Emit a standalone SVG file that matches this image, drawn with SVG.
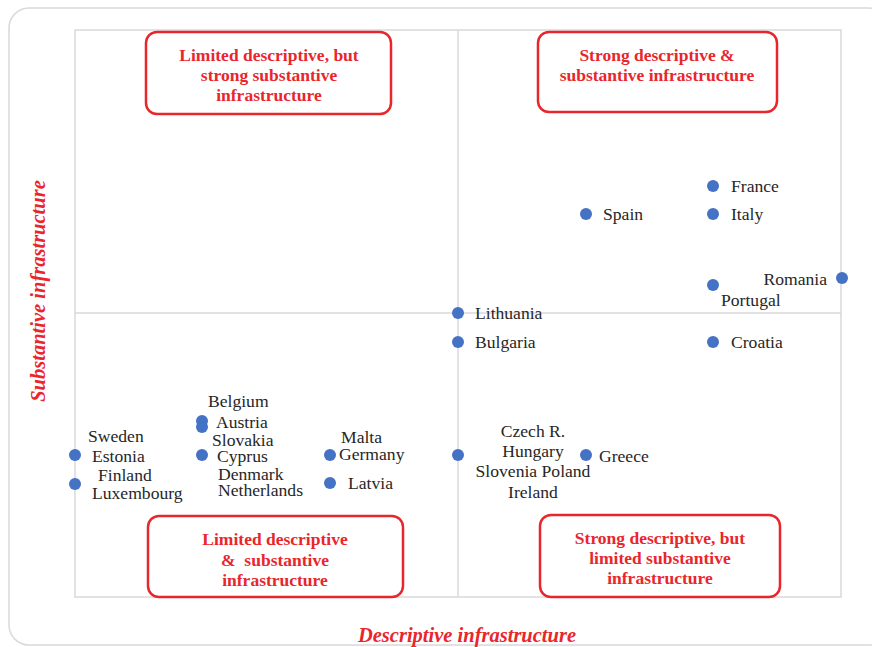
<svg xmlns="http://www.w3.org/2000/svg" width="872" height="647" viewBox="0 0 872 647">
<style>
.frame{fill:#fff;stroke:#d9d9d9;stroke-width:1.5}
.grid{fill:none;stroke:#d9d9d9;stroke-width:1.5}
.box{fill:#fff;stroke:#e8262c;stroke-width:2.5}
.bt{font-family:"Liberation Serif","Times New Roman",serif;font-weight:bold;font-size:17.5px;fill:#e8262c;text-anchor:middle}
.ax{font-family:"Liberation Serif","Times New Roman",serif;font-weight:bold;font-style:italic;font-size:20.5px;fill:#e8262c;text-anchor:middle}
.lb{font-family:"Liberation Serif","Times New Roman",serif;font-size:17.6px;fill:#262626}
.dot{fill:#4472c4}
</style>
<rect class="frame" x="9" y="8" width="880" height="637" rx="20"/>
<g id="plot">
<rect class="grid" x="75" y="30" width="766" height="567"/>
<line class="grid" x1="458" y1="30" x2="458" y2="597"/>
<line class="grid" x1="75" y1="313" x2="841" y2="313"/>
</g>
<g id="axis-labels">
<text class="ax" x="467" y="642">Descriptive infrastructure</text>
<text class="ax" transform="translate(45 291) rotate(-90)">Substantive infrastructure</text>
</g>
<g id="q-top-left">
<rect class="box" x="146" y="32" width="245" height="82" rx="11"/>
<text class="bt" x="269" y="61">Limited descriptive, but</text>
<text class="bt" x="269" y="81">strong substantive</text>
<text class="bt" x="269" y="101">infrastructure</text>
</g>
<g id="q-top-right">
<rect class="box" x="538" y="32" width="239" height="80" rx="11"/>
<text class="bt" x="657" y="61">Strong descriptive &amp;</text>
<text class="bt" x="657" y="81">substantive infrastructure</text>
</g>
<g id="q-bottom-left">
<rect class="box" x="148" y="516" width="255" height="81" rx="11"/>
<text class="bt" x="275" y="545">Limited descriptive</text>
<text class="bt" x="275" y="566" xml:space="preserve">&amp;  substantive</text>
<text class="bt" x="275" y="586">infrastructure</text>
</g>
<g id="q-bottom-right">
<rect class="box" x="540" y="515" width="240" height="82" rx="11"/>
<text class="bt" x="660" y="544">Strong descriptive, but</text>
<text class="bt" x="660" y="564">limited substantive</text>
<text class="bt" x="660" y="584">infrastructure</text>
</g>
<g id="points">
<g id="france"><circle class="dot" cx="713" cy="186" r="6"/><text class="lb" x="731" y="192">France</text></g>
<g id="spain"><circle class="dot" cx="586" cy="214" r="6"/><text class="lb" x="603" y="220">Spain</text></g>
<g id="italy"><circle class="dot" cx="713" cy="214" r="6"/><text class="lb" x="731" y="220">Italy</text></g>
<g id="romania"><circle class="dot" cx="842" cy="278" r="6"/><text class="lb" x="827" y="285" text-anchor="end">Romania</text></g>
<g id="portugal"><circle class="dot" cx="713" cy="285" r="6"/><text class="lb" x="721" y="306">Portugal</text></g>
<g id="lithuania"><circle class="dot" cx="458" cy="313" r="6"/><text class="lb" x="475" y="319">Lithuania</text></g>
<g id="bulgaria"><circle class="dot" cx="458" cy="342" r="6"/><text class="lb" x="475" y="348">Bulgaria</text></g>
<g id="croatia"><circle class="dot" cx="713" cy="342" r="6"/><text class="lb" x="731" y="348">Croatia</text></g>
<g id="greece"><circle class="dot" cx="586" cy="455" r="6"/><text class="lb" x="599" y="462">Greece</text></g>
<g id="czech-group"><circle class="dot" cx="458" cy="455" r="6"/>
<text class="lb" x="533" y="437" text-anchor="middle">Czech R.</text>
<text class="lb" x="533" y="457" text-anchor="middle">Hungary</text>
<text class="lb" x="533" y="477" text-anchor="middle">Slovenia Poland</text>
<text class="lb" x="533" y="498" text-anchor="middle">Ireland</text></g>
<g id="malta-germany"><circle class="dot" cx="330" cy="455" r="6"/>
<text class="lb" x="341" y="443">Malta</text>
<text class="lb" x="339" y="460">Germany</text></g>
<g id="latvia"><circle class="dot" cx="330" cy="483" r="6"/><text class="lb" x="348" y="489">Latvia</text></g>
<g id="belgium-austria"><circle class="dot" cx="202" cy="421" r="6"/><circle class="dot" cx="202" cy="427" r="6"/>
<text class="lb" x="208" y="407">Belgium</text>
<text class="lb" x="216" y="428">Austria</text></g>
<g id="slovakia-group"><circle class="dot" cx="202" cy="455" r="6"/>
<text class="lb" x="212" y="446">Slovakia</text>
<text class="lb" x="217" y="462">Cyprus</text>
<text class="lb" x="218" y="480">Denmark</text>
<text class="lb" x="218" y="496">Netherlands</text></g>
<g id="sweden-estonia"><circle class="dot" cx="75" cy="455" r="6"/>
<text class="lb" x="88" y="442">Sweden</text>
<text class="lb" x="92" y="462">Estonia</text></g>
<g id="finland-luxembourg"><circle class="dot" cx="75" cy="484" r="6"/>
<text class="lb" x="98" y="481">Finland</text>
<text class="lb" x="92" y="499">Luxembourg</text></g>
</g>
</svg>
